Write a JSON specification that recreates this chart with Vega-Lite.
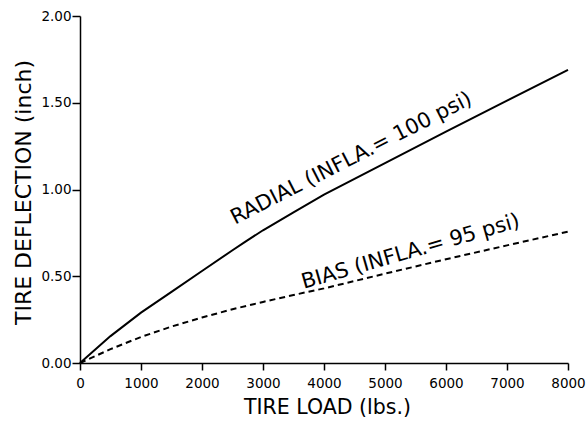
{
  "$schema": "https://vega.github.io/schema/vega-lite/v6.json",
  "width": 488,
  "height": 347,
  "autosize": {"type": "none"},
  "padding": {"left": 80, "top": 16, "right": 19, "bottom": 59},
  "background": "white",
  "config": {
    "view": {"stroke": null},
    "font": "DejaVu Sans",
    "axis": {
      "grid": false,
      "domainColor": "black",
      "domainWidth": 1.5,
      "tickColor": "black",
      "tickWidth": 1.5,
      "labelColor": "black",
      "titleColor": "black",
      "labelFont": "DejaVu Sans",
      "titleFont": "DejaVu Sans",
      "titleFontWeight": "normal",
      "labelFontSize": 13.5
    }
  },
  "datasets": {
    "curves": [
      {"tire": "RADIAL", "load": 0, "deflection": 0},
      {"tire": "RADIAL", "load": 500, "deflection": 0.155},
      {"tire": "RADIAL", "load": 1000, "deflection": 0.29},
      {"tire": "RADIAL", "load": 1500, "deflection": 0.41},
      {"tire": "RADIAL", "load": 2000, "deflection": 0.53},
      {"tire": "RADIAL", "load": 2500, "deflection": 0.65},
      {"tire": "RADIAL", "load": 2700, "deflection": 0.697},
      {"tire": "RADIAL", "load": 3000, "deflection": 0.765},
      {"tire": "RADIAL", "load": 3500, "deflection": 0.868},
      {"tire": "RADIAL", "load": 4000, "deflection": 0.97},
      {"tire": "RADIAL", "load": 5000, "deflection": 1.152},
      {"tire": "RADIAL", "load": 6000, "deflection": 1.333},
      {"tire": "RADIAL", "load": 7000, "deflection": 1.512},
      {"tire": "RADIAL", "load": 8000, "deflection": 1.69},
      {"tire": "BIAS", "load": 0, "deflection": 0},
      {"tire": "BIAS", "load": 500, "deflection": 0.08},
      {"tire": "BIAS", "load": 1000, "deflection": 0.15},
      {"tire": "BIAS", "load": 1500, "deflection": 0.21},
      {"tire": "BIAS", "load": 2000, "deflection": 0.262},
      {"tire": "BIAS", "load": 2500, "deflection": 0.31},
      {"tire": "BIAS", "load": 3000, "deflection": 0.352},
      {"tire": "BIAS", "load": 3500, "deflection": 0.392},
      {"tire": "BIAS", "load": 4000, "deflection": 0.43},
      {"tire": "BIAS", "load": 5000, "deflection": 0.515},
      {"tire": "BIAS", "load": 6000, "deflection": 0.598},
      {"tire": "BIAS", "load": 7000, "deflection": 0.678},
      {"tire": "BIAS", "load": 8000, "deflection": 0.757}
    ]
  },
  "layer": [
    {
      "data": {"name": "curves"},
      "transform": [{"filter": "datum.tire === 'RADIAL'"}],
      "mark": {"type": "line", "color": "black", "strokeWidth": 2},
      "encoding": {
        "x": {
          "field": "load", "type": "quantitative",
          "scale": {"domain": [0, 8000], "nice": false},
          "axis": {
            "title": "TIRE LOAD (lbs.)",
            "values": [0, 1000, 2000, 3000, 4000, 5000, 6000, 7000, 8000],
            "format": "d",
            "tickSize": 7,
            "labelPadding": 6,
            "labelFlush": false,
            "titleFontSize": 20.5,
            "titleX": 247,
            "titleY": 44,
            "titleBaseline": "middle",
            "titleAlign": "center"
          }
        },
        "y": {
          "field": "deflection", "type": "quantitative",
          "scale": {"domain": [0, 2], "nice": false},
          "axis": {
            "title": "TIRE DEFLECTION (inch)",
            "values": [0, 0.5, 1, 1.5, 2],
            "format": ".2f",
            "tickSize": 8,
            "labelPadding": 1,
            "labelFlush": false,
            "titleFontSize": 22,
            "titleAngle": 270,
            "titleX": -57,
            "titleY": 176,
            "titleBaseline": "middle",
            "titleAlign": "center"
          }
        }
      }
    },
    {
      "data": {"name": "curves"},
      "transform": [{"filter": "datum.tire === 'BIAS'"}],
      "mark": {"type": "line", "color": "black", "strokeWidth": 2, "strokeDash": [6, 4]},
      "encoding": {
        "x": {"field": "load", "type": "quantitative"},
        "y": {"field": "deflection", "type": "quantitative"}
      }
    },
    {
      "data": {"values": [{"label": "RADIAL (INFLA.= 100 psi)"}]},
      "mark": {"type": "text", "angle": -27, "fontSize": 21, "align": "center", "baseline": "middle", "color": "black"},
      "encoding": {
        "x": {"datum": 4450, "type": "quantitative"},
        "y": {"datum": 1.178, "type": "quantitative"},
        "text": {"field": "label"}
      }
    },
    {
      "data": {"values": [{"label": "BIAS (INFLA.= 95 psi)"}]},
      "mark": {"type": "text", "angle": -16, "fontSize": 21, "align": "center", "baseline": "middle", "color": "black"},
      "encoding": {
        "x": {"datum": 5420, "type": "quantitative"},
        "y": {"datum": 0.64, "type": "quantitative"},
        "text": {"field": "label"}
      }
    }
  ]
}
